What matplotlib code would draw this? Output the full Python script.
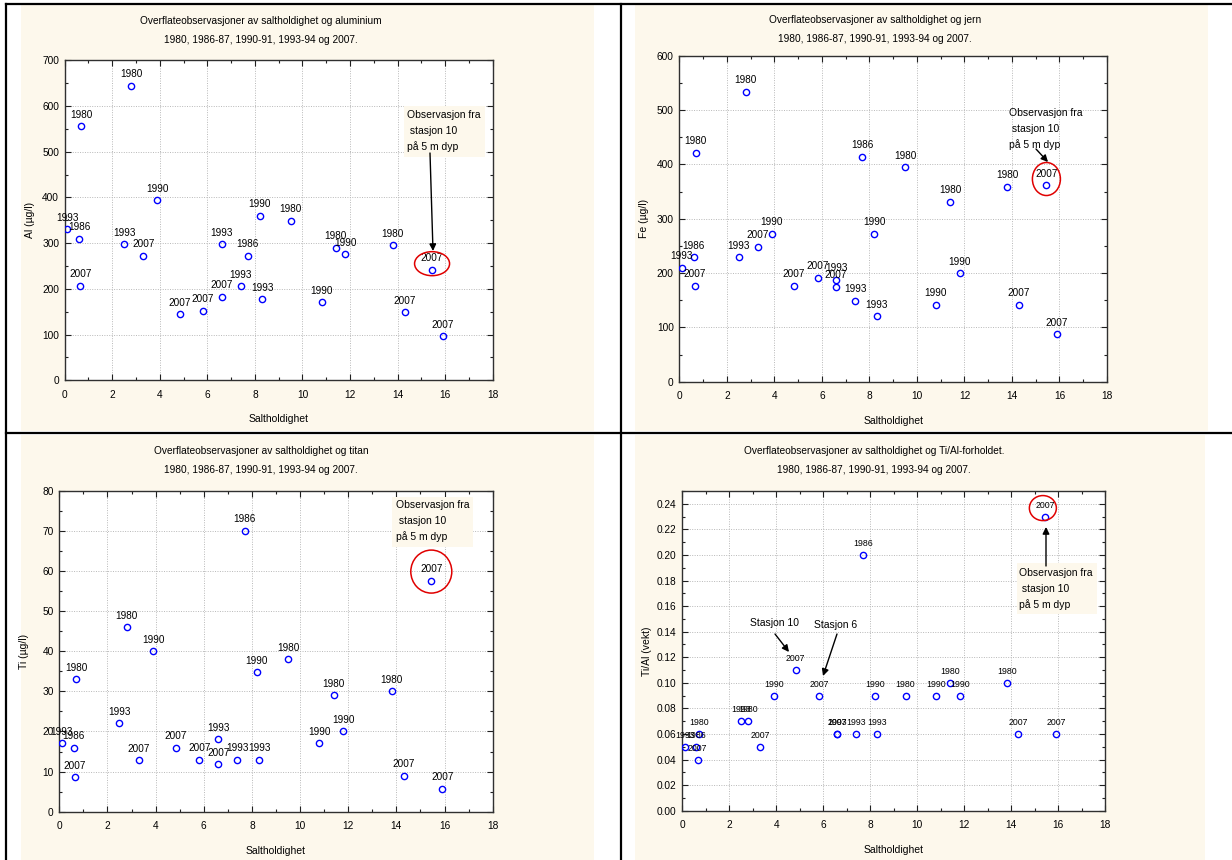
import numpy as np
import matplotlib
matplotlib.use("Agg")
import matplotlib.pyplot as plt
from matplotlib.patches import Ellipse, Rectangle, FancyArrowPatch
from matplotlib.lines import Line2D
from matplotlib.transforms import ScaledTranslation
from matplotlib.ticker import MultipleLocator, FormatStrFormatter

plt.rcParams['font.family'] = ['Liberation Sans', 'DejaVu Sans']

# data : one entry per observation (saltholdighet, year label, values)
salt = [0.1, 0.6, 0.65, 0.7, 2.5, 2.8, 3.3, 3.9, 4.83, 5.82, 6.6, 6.6,
        7.4, 7.7, 8.2, 8.3, 9.5, 10.8, 11.4, 11.8, 13.8, 14.3, 15.45, 15.9]
years = ["1993", "1986", "2007", "1980", "1993", "1980", "2007", "1990", "2007", "2007", "1993", "2007",
         "1993", "1986", "1990", "1993", "1980", "1990", "1980", "1990", "1980", "2007", "2007", "2007"]
al = [330, 310, 207, 556, 298, 644, 273, 394, 144, 152, 298, 183,
      206, 273, 360, 177, 349, 171, 290, 276, 295, 149, 242, 96]
fe = [210, 229, 177, 421, 229, 534, 248, 272, 177, 191, 188, 175,
      149, 414, 272, 120, 395, 142, 331, 200, 359, 142, 362, 87]
ti = [17, 16, 8.6, 33, 22, 46, 12.8, 40, 16, 13, 18, 11.8,
      13, 70, 34.8, 13, 38, 17, 29, 20, 30, 9, 57.6, 5.7]
tial = [0.05, 0.05, 0.04, 0.06, 0.07, 0.07, 0.05, 0.09, 0.11, 0.09, 0.06, 0.06,
        0.06, 0.20, 0.09, 0.06, 0.09, 0.09, 0.10, 0.09, 0.10, 0.06, 0.23, 0.06]
station10 = 22  # index of the circled observation

title2 = "1980, 1986-87, 1990-91, 1993-94 og 2007."
obs_lines = ["Observasjon fra", " stasjon 10", "på 5 m dyp"]

W, H = 1232, 860
cream = "#fdf8ec"
fig = plt.figure(figsize=(W / 100, H / 100), dpi=100, facecolor="white")


def fx(px):
    return px / W


def fy(py):
    return 1 - py / H


# cream panels
for l, t, r, b in [(21, 5, 594, 431), (635, 5, 1208, 431), (21, 435, 594, 860), (635, 435, 1205, 860)]:
    fig.add_artist(Rectangle((fx(l), fy(b)), (r - l) / W, (b - t) / H, transform=fig.transFigure,
                             facecolor=cream, edgecolor="none", zorder=0))

# black frame lines
for xs, ys in [((6, 6), (4, 860)), ((621, 621), (4, 860)), ((6, 1232), (4, 4)), ((6, 1232), (433, 433))]:
    fig.add_artist(Line2D([fx(xs[0]), fx(xs[1])], [fy(ys[0]), fy(ys[1])], transform=fig.transFigure,
                          color="black", lw=1.6, zorder=5))


def make_panel(box, values, ylim, ymaj, ymin, yfmt, ylabel, title1, title_x, title_y, label_size=7.2):
    l, t, r, b = box
    ax = fig.add_axes([fx(l), fy(b), (r - l) / W, (b - t) / H])
    ax.set_facecolor("white")
    ax.plot(salt, values, "o", ms=4.5, mfc="none", mec="#0000ff", mew=1.0, zorder=3)
    for x, y, lab in zip(salt, values, years):
        ax.annotate(lab, (x, y), xytext=(0, 11.5), textcoords="offset pixels",
                    ha="center", va="center", fontsize=label_size, color="black", zorder=4)
    ax.set_xlim(0, 18)
    ax.set_ylim(*ylim)
    ax.xaxis.set_major_locator(MultipleLocator(2))
    ax.xaxis.set_minor_locator(MultipleLocator(1))
    ax.yaxis.set_major_locator(MultipleLocator(ymaj))
    ax.yaxis.set_minor_locator(MultipleLocator(ymin))
    ax.yaxis.set_major_formatter(FormatStrFormatter(yfmt))
    ax.tick_params(which="both", direction="in", top=True, right=True, labelsize=7.3, color="#202020")
    ax.tick_params(which="major", length=4, width=0.8)
    ax.tick_params(which="minor", length=2.5, width=0.8)
    ax.tick_params(axis="x", pad=7)
    ax.tick_params(axis="y", pad=4)
    ax.grid(True, which="major", color="#b8b8b8", lw=0.7, ls=(0, (1, 1.5)))
    for s in ax.spines.values():
        s.set_color("#303030")
        s.set_linewidth(1.0)
    fig.text(fx((l + r) / 2), fy(b + 39), "Saltholdighet", ha="center", va="center", fontsize=7.5)
    fig.text(fx(l - 35), fy((t + b) / 2), ylabel, ha="center", va="center", rotation=90, fontsize=7.5)
    fig.text(fx(title_x), fy(title_y), title1, ha="center", va="center", fontsize=7.3)
    fig.text(fx(title_x), fy(title_y + 19), title2, ha="center", va="center", fontsize=7.3)
    return ax


def circle(ax, values, dx, dy, w, h):
    tr = fig.dpi_scale_trans + ScaledTranslation(salt[station10], values[station10], ax.transData)
    ax.add_patch(Ellipse((dx / 100, dy / 100), w / 100, h / 100, transform=tr,
                         facecolor="none", edgecolor="#e00000", lw=1.1, zorder=5, clip_on=False))


def note(left, top_center, box=None):
    if box is not None:
        l, t, r, b = box
        fig.add_artist(Rectangle((fx(l), fy(b)), (r - l) / W, (b - t) / H, transform=fig.transFigure,
                                 facecolor=cream, edgecolor="none", zorder=6))
    for i, line in enumerate(obs_lines):
        fig.text(fx(left), fy(top_center + 15.7 * i), line, ha="left", va="center", fontsize=7.5, zorder=7)


def arrow(p0, p1):
    fig.add_artist(FancyArrowPatch((fx(p0[0]), fy(p0[1])), (fx(p1[0]), fy(p1[1])), transform=fig.transFigure,
                                   arrowstyle="-|>", mutation_scale=10, lw=1.0, color="black",
                                   shrinkA=0, shrinkB=0, zorder=8))


# panel 1 : aluminium
ax1 = make_panel((64.7, 60.3, 492.7, 380.3), al, (0, 700), 100, 50, "%d", "Al (µg/l)",
                 "Overflateobservasjoner av saltholdighet og aluminium", 261, 21)
circle(ax1, al, 0, 6, 35, 24)
note(407, 115, (404, 106, 485, 157))
arrow((430, 153), (433, 251))

# panel 2 : jern
ax2 = make_panel((679.3, 55.7, 1107, 381.7), fe, (0, 600), 100, 50, "%d", "Fe (µg/l)",
                 "Overflateobservasjoner av saltholdighet og jern", 875, 20)
circle(ax2, fe, 0, 6, 28, 33)
note(1009, 113)
arrow((1036, 149), (1048, 162))

# panel 3 : titan
ax3 = make_panel((59.3, 490.7, 492.7, 811.7), ti, (0, 80), 10, 5, "%d", "Ti (µg/l)",
                 "Overflateobservasjoner av saltholdighet og titan", 261, 451)
circle(ax3, ti, 0, 9, 41, 43)
note(396, 505, (392, 497, 473, 547))

# panel 4 : Ti/Al
ax4 = make_panel((682.3, 491, 1105.3, 810.7), tial, (0, 0.25), 0.02, 0.01, "%.2f", "Ti/Al (vekt)",
                 "Overflateobservasjoner av saltholdighet og Ti/Al-forholdet.", 874, 451, label_size=6.3)
circle(ax4, tial, -2.5, 8.5, 27, 25)
note(1019, 573, (1017, 563, 1097, 614))
arrow((1046, 566), (1046, 527))
fig.text(fx(775), fy(623), "Stasjon 10", ha="center", va="center", fontsize=7.5)
arrow((775, 634), (789, 652))
fig.text(fx(836), fy(625), "Stasjon 6", ha="center", va="center", fontsize=7.5)
arrow((837, 634), (823, 676))

plt.savefig("out.png", dpi=100, facecolor="white")
plt.close()
